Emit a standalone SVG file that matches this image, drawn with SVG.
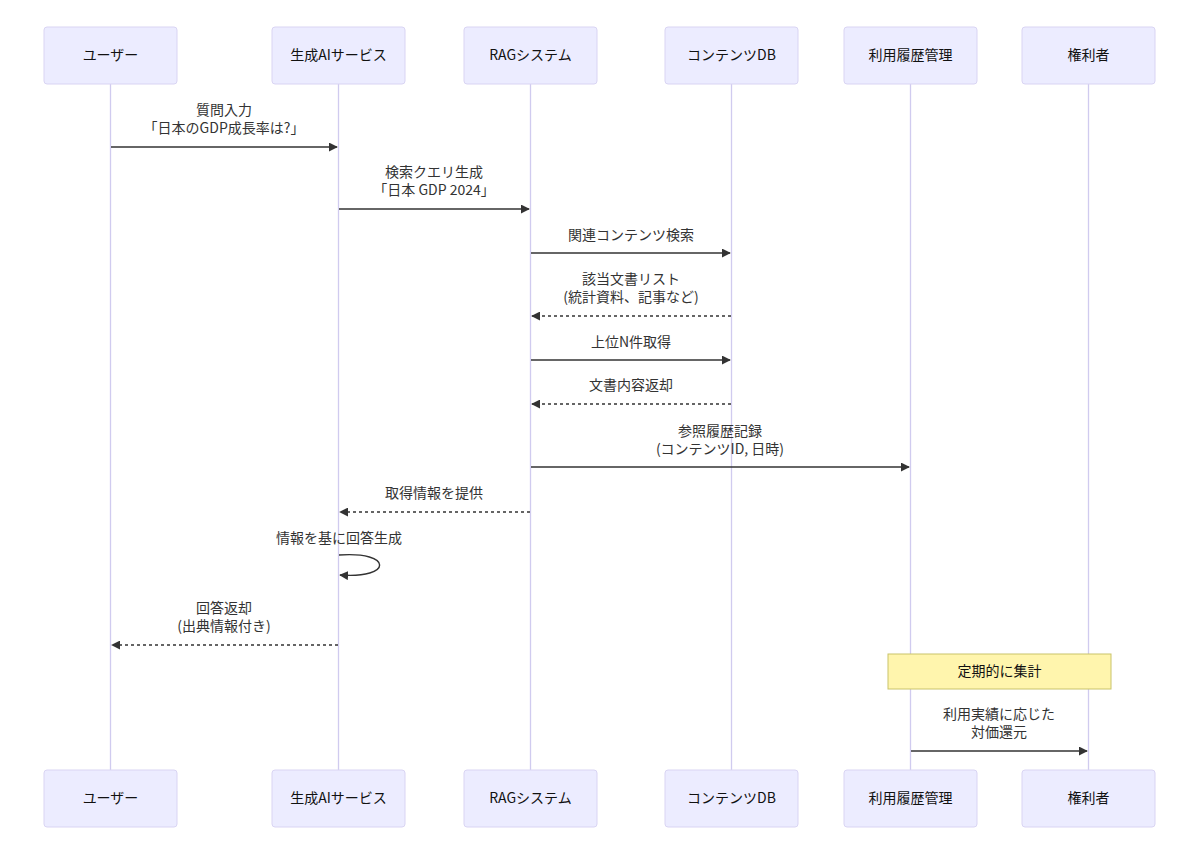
<svg xmlns="http://www.w3.org/2000/svg" width="1200" height="855" viewBox="0 0 1200 855">
<style>
.actor{fill:#ECECFF;stroke:#d9d4f3;stroke-width:1}
.life{stroke:#d0cbef;stroke-width:1.3}
.t{font-family:"Noto Sans CJK JP","Liberation Sans",sans-serif;font-size:14px;fill:#333;text-anchor:middle}
.at{font-family:"Noto Sans CJK JP","Liberation Sans",sans-serif;font-size:14px;fill:#111;text-anchor:middle}
.msg{stroke:#333;stroke-width:1.4;fill:none}
.dash{stroke-dasharray:3 3}
.note{fill:#fff5ad;stroke:#c9c36a;stroke-width:1}
</style>
<defs>
<marker id="ah" viewBox="0 0 10 10" refX="9" refY="5" markerWidth="9" markerHeight="9" markerUnits="userSpaceOnUse" orient="auto">
<path d="M0,0 L10,5 L0,10 z" fill="#333"/>
</marker>
</defs>
<rect width="1200" height="855" fill="#fff"/>
<g id="lifelines">
<line class="life" x1="110.5" y1="84" x2="110.5" y2="770"/>
<line class="life" x1="338.5" y1="84" x2="338.5" y2="770"/>
<line class="life" x1="530.5" y1="84" x2="530.5" y2="770"/>
<line class="life" x1="731.5" y1="84" x2="731.5" y2="770"/>
<line class="life" x1="910.5" y1="84" x2="910.5" y2="770"/>
<line class="life" x1="1088.5" y1="84" x2="1088.5" y2="770"/>
</g>
<g id="user-top"><rect class="actor" x="44" y="27" width="133" height="57" rx="3"/><text class="at" x="110.5" y="60">ユーザー</text></g>
<g id="ai-top"><rect class="actor" x="272" y="27" width="133" height="57" rx="3"/><text class="at" x="338.5" y="60">生成AIサービス</text></g>
<g id="rag-top"><rect class="actor" x="464" y="27" width="133" height="57" rx="3"/><text class="at" x="530.5" y="60">RAGシステム</text></g>
<g id="db-top"><rect class="actor" x="665" y="27" width="133" height="57" rx="3"/><text class="at" x="731.5" y="60">コンテンツDB</text></g>
<g id="log-top"><rect class="actor" x="844" y="27" width="133" height="57" rx="3"/><text class="at" x="910.5" y="60">利用履歴管理</text></g>
<g id="owner-top"><rect class="actor" x="1022" y="27" width="133" height="57" rx="3"/><text class="at" x="1088.5" y="60">権利者</text></g>
<g id="user-bottom"><rect class="actor" x="44" y="770" width="133" height="57" rx="3"/><text class="at" x="110.5" y="803">ユーザー</text></g>
<g id="ai-bottom"><rect class="actor" x="272" y="770" width="133" height="57" rx="3"/><text class="at" x="338.5" y="803">生成AIサービス</text></g>
<g id="rag-bottom"><rect class="actor" x="464" y="770" width="133" height="57" rx="3"/><text class="at" x="530.5" y="803">RAGシステム</text></g>
<g id="db-bottom"><rect class="actor" x="665" y="770" width="133" height="57" rx="3"/><text class="at" x="731.5" y="803">コンテンツDB</text></g>
<g id="log-bottom"><rect class="actor" x="844" y="770" width="133" height="57" rx="3"/><text class="at" x="910.5" y="803">利用履歴管理</text></g>
<g id="owner-bottom"><rect class="actor" x="1022" y="770" width="133" height="57" rx="3"/><text class="at" x="1088.5" y="803">権利者</text></g>
<g id="note"><rect class="note" x="888" y="654" width="223" height="35"/><text class="at" x="999.5" y="676">定期的に集計</text></g>
<g id="connectors">
<line class="msg" x1="111" y1="147" x2="337" y2="147" marker-end="url(#ah)"/>
<line class="msg" x1="339" y1="209" x2="529" y2="209" marker-end="url(#ah)"/>
<line class="msg" x1="531" y1="253" x2="730" y2="253" marker-end="url(#ah)"/>
<line class="msg dash" x1="731" y1="316" x2="532" y2="316" marker-end="url(#ah)"/>
<line class="msg" x1="531" y1="360" x2="730" y2="360" marker-end="url(#ah)"/>
<line class="msg dash" x1="731" y1="404" x2="532" y2="404" marker-end="url(#ah)"/>
<line class="msg" x1="531" y1="467" x2="909" y2="467" marker-end="url(#ah)"/>
<line class="msg dash" x1="530" y1="512" x2="340" y2="512" marker-end="url(#ah)"/>
<path class="msg" d="M339,555 C393,551 393,579 340,575" marker-end="url(#ah)"/>
<line class="msg dash" x1="338" y1="645" x2="112" y2="645" marker-end="url(#ah)"/>
<line class="msg" x1="911" y1="751" x2="1087" y2="751" marker-end="url(#ah)"/>
</g>
<g id="labels">
<text class="t" x="224" y="115">質問入力</text>
<text class="t" x="224" y="133">「日本のGDP成長率は?」</text>
<text class="t" x="434" y="177">検索クエリ生成</text>
<text class="t" x="434" y="195">「日本 GDP 2024」</text>
<text class="t" x="631" y="240">関連コンテンツ検索</text>
<text class="t" x="631" y="284">該当文書リスト</text>
<text class="t" x="631" y="302">(統計資料、記事など)</text>
<text class="t" x="631" y="347">上位N件取得</text>
<text class="t" x="631" y="390">文書内容返却</text>
<text class="t" x="720" y="436">参照履歴記録</text>
<text class="t" x="720" y="454">(コンテンツID, 日時)</text>
<text class="t" x="434" y="498">取得情報を提供</text>
<text class="t" x="339" y="543">情報を基に回答生成</text>
<text class="t" x="224" y="613">回答返却</text>
<text class="t" x="224" y="631">(出典情報付き)</text>
<text class="t" x="999" y="719">利用実績に応じた</text>
<text class="t" x="999" y="737">対価還元</text>
</g>
</svg>
